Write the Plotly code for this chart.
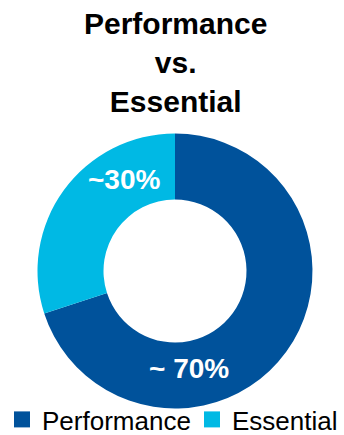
import plotly.graph_objects as go

categories = ["Performance", "Essential"]
values = [70, 30]
colors = ["#00529B", "#00B9E4"]
labels_text = ["~ 70%", "~30%"]
title_text = "<b>Performance<br>vs.<br>Essential</b>"

W, H = 344, 435
cx, cy, r = 175, 271, 137.5
FONT = "Liberation Sans, Arial, Helvetica, sans-serif"

fig = go.Figure()
fig.add_trace(go.Pie(
    labels=categories, values=values, hole=0.52, sort=False,
    direction="clockwise", rotation=0,
    marker=dict(colors=colors, line=dict(width=0)),
    textinfo="none", hoverinfo="label+percent", showlegend=False,
    domain=dict(x=[(cx - r) / W, (cx + r) / W], y=[1 - (cy + r) / H, 1 - (cy - r) / H]),
))

# legend entries (one per category), each in its own legend box
legend_names = ["legend", "legend2"]
for cat, col, lg in zip(categories, colors, legend_names):
    fig.add_trace(go.Scatter(
        x=[None], y=[None], mode="markers", name=cat, legend=lg,
        marker=dict(symbol="square", size=16, color=col), hoverinfo="skip",
    ))

fig.add_annotation(text=title_text, x=175 / W, y=1 - 5 / H, xref="paper", yref="paper",
                   xanchor="center", yanchor="top", showarrow=False,
                   font=dict(family=FONT, size=30, color="#000000"))

label_pos = [(189, 368), (124, 179)]
for t, (px, py) in zip(labels_text, label_pos):
    fig.add_annotation(text="<b>" + t + "</b>", x=px / W, y=1 - py / H, xref="paper", yref="paper",
                       xanchor="center", yanchor="middle", showarrow=False,
                       font=dict(family=FONT, size=28, color="#FFFFFF"))

leg_common = dict(orientation="h", y=-8 / H, yanchor="bottom", xanchor="left",
                  xref="container", yref="paper",
                  font=dict(family=FONT, size=26, color="#000000"),
                  itemsizing="trace", bgcolor="rgba(0,0,0,0)", borderwidth=0)
fig.update_layout(
    width=W, height=H, margin=dict(l=0, r=0, t=0, b=0, autoexpand=False),
    paper_bgcolor="white", plot_bgcolor="white",
    showlegend=True,
    xaxis=dict(visible=False), yaxis=dict(visible=False),
    legend=dict(x=2 / W, **leg_common),
    legend2=dict(x=192 / W, **leg_common),
)
fig.write_html("out.html", config={"displayModeBar": False},
               post_script="document.body.style.margin='0';document.body.style.overflow='hidden';")
